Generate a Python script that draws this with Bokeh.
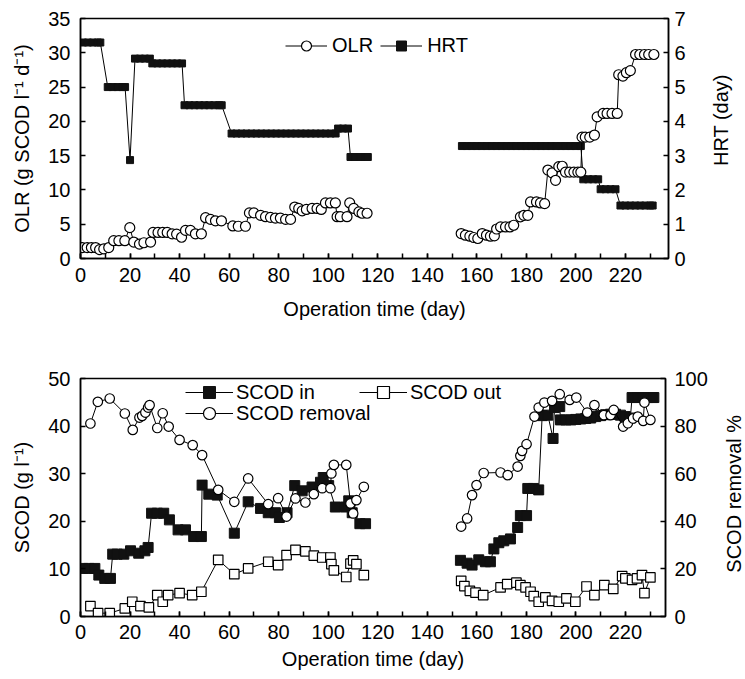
from bokeh.plotting import figure
from bokeh.layouts import column, row
from bokeh.models import Range1d, LinearAxis, SingleIntervalTicker, Legend, LegendItem, Label
from bokeh.embed import file_html
from bokeh.resources import INLINE

FONT = "Liberation Sans"

# ---------------- data: top panel ----------------
olr_day_a = [0.7, 2.7, 4.4, 6.1, 7.7, 9.4, 11.4, 13.4, 15.5, 17.9, 19.9, 21.5, 23.8, 25.6, 28.3, 29.3, 31.3, 33.2, 35.0, 37.0,
             38.8, 40.8, 42.4, 44.4, 46.4, 48.8, 50.5, 52.5, 54.5, 56.9, 61.5, 63.7, 66.6, 68.2, 70.0, 72.7, 74.7, 76.7, 78.7, 80.7,
             82.8, 84.8, 86.5, 88.1, 89.5, 91.2, 93.5, 95.5, 97.2, 98.9, 100.9, 102.9, 103.6, 104.9, 107.6, 108.7, 110.3, 112.4, 113.7, 115.7]
olr_a = [1.6, 1.6, 1.6, 1.6, 1.3, 1.4, 1.6, 2.6, 2.6, 2.6, 4.5, 2.4, 2.1, 2.3, 2.4, 3.8, 3.8, 3.8, 3.8, 3.6,
         3.55, 3.1, 4.1, 4.1, 3.6, 3.6, 5.95, 5.7, 5.5, 5.5, 4.75, 4.7, 4.7, 6.65, 6.65, 6.3, 6.1, 6.0, 5.9, 5.9,
         5.7, 5.7, 7.5, 7.3, 6.95, 7.15, 7.3, 7.3, 7.15, 8.1, 8.1, 8.1, 6.1, 6.1, 6.1, 8.1, 7.3, 6.8, 6.6, 6.6]
olr_day_b = [153.7, 155.4, 157.2, 158.8, 160.4, 162.2, 163.9, 165.5, 167.1, 168.0, 169.6, 171.6, 173.4, 174.9, 177.6, 179.0,
             180.6, 181.7, 184.1, 185.7, 187.4, 188.7, 190.4, 191.8, 193.1, 194.5, 195.8, 197.5, 199.2, 200.8, 202.0, 202.5,
             203.8, 205.6, 207.5, 208.6, 211.0, 212.6, 214.6, 216.7, 217.3, 219.0, 220.4, 222.0, 224.1, 225.8, 227.7, 229.4, 231.5]
olr_b = [3.64, 3.4, 3.25, 3.06, 2.92, 3.64, 3.4, 3.25, 3.3, 4.3, 4.6, 4.6, 4.6, 4.85, 6.07, 6.3,
         6.3, 8.25, 8.25, 8.1, 8.0, 12.9, 12.5, 11.4, 13.4, 13.45, 12.6, 12.6, 12.6, 12.6, 12.6, 17.7,
         17.7, 17.7, 18.0, 20.65, 21.15, 21.15, 21.15, 21.15, 26.8, 26.6, 27.1, 27.4, 29.75, 29.75, 29.75, 29.75, 29.75]

hrt_day_a = [1, 3, 5, 7, 8, 11, 13, 15, 17, 18, 20, 22, 24, 26, 28, 29, 31, 33, 35, 37, 39, 41,
             42, 44, 46, 48, 50, 52, 54, 56, 57, 61, 63, 65, 67, 69, 71, 73, 75, 77, 79, 81, 83, 85, 87, 89,
             91, 93, 95, 97, 99, 101, 103, 104, 106, 108, 109, 111, 113, 115, 116]
hrt_a = [6.3, 6.3, 6.3, 6.3, 6.3, 5.0, 5.0, 5.0, 5.0, 5.0, 2.87, 5.83, 5.83, 5.83, 5.83,
         5.69, 5.69, 5.69, 5.69, 5.69, 5.69, 5.69,
         4.47, 4.47, 4.47, 4.47, 4.47, 4.47, 4.47, 4.47, 4.47,
         3.645, 3.645, 3.645, 3.645, 3.645, 3.645, 3.645, 3.645, 3.645, 3.645, 3.645,
         3.645, 3.645, 3.645, 3.645, 3.645, 3.645, 3.645, 3.645, 3.645, 3.645, 3.645,
         3.79, 3.79, 3.79, 2.96, 2.96, 2.96, 2.96, 2.96]
hrt_day_b = [154, 156, 158, 160, 162, 164, 166, 168, 170, 172, 174, 176, 178, 180, 182, 184, 186, 188,
             190, 192, 194, 196, 198, 200, 202, 203, 205, 207, 209, 210, 212, 214, 216,
             218, 220, 222, 224, 226, 228, 230, 231]
hrt_b = [3.28, 3.28, 3.28, 3.28, 3.28, 3.28, 3.28, 3.28, 3.28, 3.28, 3.28, 3.28, 3.28, 3.28, 3.28, 3.28, 3.28, 3.28,
         3.28, 3.28, 3.28, 3.28, 3.28, 3.28, 3.28, 2.31, 2.31, 2.31, 2.31, 2.02, 2.02, 2.02, 2.02,
         1.545, 1.545, 1.545, 1.545, 1.545, 1.545, 1.545, 1.545]

# ---------------- data: bottom panel ----------------
in_day_a = [0.9, 3.4, 5.8, 7.4, 9.8, 12.1, 13.0, 14.8, 17.5, 20.2, 23.5, 26.0, 27.3, 28.7, 31.0, 33.6, 35.9, 39.4, 42.4, 45.7,
            48.8, 49.1, 51.8, 55.2, 62.1, 67.7, 72.7, 75.8, 78.7, 80.3, 83.4, 86.5, 89.5, 93.5, 96.9, 98.0, 100.2, 102.9, 107.0, 108.3,
            109.7, 112.8, 115.1]
in_a = [10.1, 10.1, 10.1, 8.7, 8.0, 8.0, 13.1, 13.1, 13.1, 13.8, 13.3, 13.8, 14.5, 21.7, 21.7, 21.7, 20.3, 18.2, 18.2, 16.8,
        16.8, 27.6, 25.7, 25.5, 17.5, 24.1, 22.7, 21.8, 21.8, 20.8, 21.8, 27.5, 26.4, 27.2, 28.2, 29.2, 27.5, 23.0, 23.0, 24.3,
        21.8, 19.5, 19.5]
out_day_a = [4.0, 7.1, 11.8, 17.9, 20.9, 24.2, 27.6, 31.0, 33.2, 35.4, 40.0, 45.1, 48.8, 55.6, 62.1, 67.7, 75.8, 79.8, 83.2, 86.8,
             90.8, 94.2, 97.6, 100.9, 101.3, 102.3, 107.3, 109.0, 110.1, 111.4, 114.4]
out_a = [2.2, 0.7, 0.7, 1.7, 3.1, 2.2, 1.9, 4.5, 3.1, 4.5, 4.9, 4.5, 5.2, 11.9, 8.9, 10.1, 11.5, 10.8, 12.9, 14.0,
         13.7, 12.8, 12.4, 12.4, 11.0, 9.7, 8.3, 11.1, 11.8, 11.0, 8.7]
rem_day_a = [4.0, 7.0, 11.8, 17.9, 21.1, 23.8, 24.9, 26.2, 27.3, 27.9, 31.0, 33.2, 35.6, 40.0, 45.3, 49.1, 55.6, 62.1, 67.7, 75.8,
             79.8, 83.2, 86.8, 90.8, 94.2, 97.6, 100.9, 101.3, 102.3, 107.3, 109.0, 110.1, 111.4, 114.4]
rem_a = [81.1, 90.2, 91.6, 85.3, 78.4, 83.6, 84.3, 85.7, 87.8, 88.8, 79.2, 85.4, 79.8, 74.2, 72.0, 67.8, 53.2, 48.2, 58.0, 47.2,
         49.7, 42.0, 49.6, 47.9, 51.4, 53.9, 53.9, 60.1, 63.7, 63.7, 47.5, 43.3, 48.9, 54.5]

in_day_b = [153.4, 156.1, 158.1, 160.8, 163.5, 165.5, 166.9, 168.9, 170.9, 173.6, 176.5, 177.6, 180.1, 180.6, 182.9, 185.0,
            186.4, 188.7, 190.8, 191.4, 193.5, 193.8, 196.0, 198.0, 200.0, 202.0, 204.0, 206.0, 208.0, 210.0, 212.0, 214.0,
            216.0, 218.0, 220.0, 222.0, 222.7, 225.0, 227.0, 229.0, 231.0, 231.5]
in_b = [11.8, 11.2, 10.8, 11.9, 11.5, 11.5, 14.2, 15.5, 15.9, 16.3, 18.7, 21.2, 21.2, 26.9, 26.9, 26.6,
        42.2, 42.3, 37.4, 43.9, 44.1, 41.3, 41.3, 41.3, 41.4, 41.5, 41.6, 41.7, 42.0, 42.2, 42.4, 42.5,
        42.5, 42.3, 42.0, 41.7, 46.0, 46.0, 46.0, 46.0, 46.0, 46.0]
out_day_b = [153.7, 155.0, 157.2, 159.5, 162.6, 169.6, 172.3, 176.0, 177.6, 179.7, 181.7, 183.0, 185.0, 187.7, 190.4, 193.1,
             196.2, 199.8, 204.3, 207.5, 211.5, 215.1, 218.7, 220.0, 222.7, 224.7, 226.7, 227.7, 230.1]
out_b = [7.5, 6.4, 5.4, 5.0, 4.5, 6.1, 6.8, 7.1, 6.6, 6.1, 5.2, 4.3, 3.1, 4.0, 3.3, 3.1,
         3.8, 3.1, 6.3, 4.5, 6.6, 5.8, 8.5, 8.0, 7.7, 8.0, 8.7, 4.9, 8.2]
rem_day_b = [153.7, 156.1, 158.1, 159.9, 162.8, 169.6, 172.5, 176.5, 177.6, 178.3, 180.1, 183.3, 185.0, 187.3, 190.4, 193.5,
             197.5, 200.2, 204.6, 207.5, 211.3, 214.0, 215.3, 219.1, 221.0, 223.1, 225.0, 227.2, 227.7, 230.1]
rem_b = [37.8, 41.2, 51.0, 55.2, 60.3, 60.5, 59.4, 63.0, 67.5, 69.6, 72.4, 84.0, 87.8, 89.9, 90.6, 93.4,
         91.0, 92.0, 85.7, 88.8, 84.6, 84.6, 86.8, 79.8, 81.2, 83.2, 84.0, 82.2, 89.9, 82.6]

x_ticks_interval = 20
x_label = "Operation time (day)"


def style_axis(ax, standoff, label_standoff=10):
    ax.axis_line_width = 1.5
    ax.axis_line_color = "black"
    ax.major_tick_in = 5
    ax.major_tick_out = 0
    ax.minor_tick_in = 5
    ax.minor_tick_out = 0
    ax.major_tick_line_width = 1.5
    ax.minor_tick_line_width = 1.5
    ax.major_tick_line_color = "black"
    ax.minor_tick_line_color = "black"
    ax.major_label_text_font = FONT
    ax.major_label_text_font_size = "20px"
    ax.major_label_text_color = "black"
    ax.major_label_standoff = standoff
    ax.axis_label_text_font = FONT
    ax.axis_label_text_font_size = "20px"
    ax.axis_label_text_font_style = "normal"
    ax.axis_label_text_color = "black"
    ax.axis_label_standoff = label_standoff


def base_fig(width, height, xend, ystart, yend, mb_top, mb_bottom, mb_right):
    p = figure(width=width, height=height, x_range=Range1d(0, xend), y_range=Range1d(ystart, yend),
               output_backend="svg", toolbar_location=None,
               min_border_left=80, min_border_right=mb_right, min_border_top=mb_top, min_border_bottom=mb_bottom)
    p.xgrid.visible = False
    p.ygrid.visible = False
    p.outline_line_color = "black"
    p.outline_line_width = 1.5
    p.background_fill_color = "white"
    p.border_fill_color = "white"
    return p


def title_strip(width, height, text, cx, cy):
    # narrow companion figure holding an upward-reading right-hand axis title
    s = figure(width=width, height=height, x_range=Range1d(0, width), y_range=Range1d(0, height),
               output_backend="svg", toolbar_location=None, min_border=0,
               x_axis_location=None, y_axis_location=None)
    s.grid.visible = False
    s.outline_line_color = None
    s.background_fill_color = "white"
    s.border_fill_color = "white"
    s.add_layout(Label(x=cx, y=cy, text=text, angle=90, angle_units="deg",
                       text_align="center", text_baseline="middle",
                       text_font=FONT, text_font_size="20px", text_color="black"))
    return s


def make_legend(label, renderers, loc, gw, gh, standoff):
    return Legend(items=[LegendItem(label=label, renderers=renderers)],
                  orientation="horizontal", location=loc,
                  glyph_width=gw, glyph_height=gh, label_standoff=standoff, spacing=0,
                  padding=0, margin=0, border_line_color=None, background_fill_alpha=0,
                  label_text_font=FONT, label_text_font_size="20px", label_height=20,
                  label_text_color="black")


# ================= top figure =================
p1 = base_fig(700, 326, 237.4, 0, 35, 18, 68, 32)
p1.xaxis.ticker = SingleIntervalTicker(interval=x_ticks_interval, num_minor_ticks=2)
p1.yaxis.ticker = SingleIntervalTicker(interval=5)
p1.xaxis.axis_label = x_label
p1.yaxis.axis_label = "OLR (g SCOD l\u207b\u00b9 d\u207b\u00b9)"
style_axis(p1.xaxis[0], 9, 13)
style_axis(p1.yaxis[0], 10, 12)
p1.yaxis[0].minor_tick_line_color = None

p1.extra_y_ranges = {"hrt": Range1d(0, 7)}
ax_r1 = LinearAxis(y_range_name="hrt", ticker=SingleIntervalTicker(interval=1))
style_axis(ax_r1, 6)
ax_r1.minor_tick_line_color = None
p1.add_layout(ax_r1, "right")

h_l1 = p1.line(hrt_day_a, hrt_a, y_range_name="hrt", line_color="black", line_width=1)
h_l2 = p1.line(hrt_day_b, hrt_b, y_range_name="hrt", line_color="black", line_width=1)
h_s1 = p1.scatter(hrt_day_a, hrt_a, y_range_name="hrt", marker="square", size=7,
                  fill_color="#111111", line_color="#111111")
h_s2 = p1.scatter(hrt_day_b, hrt_b, y_range_name="hrt", marker="square", size=7,
                  fill_color="#111111", line_color="#111111")
o_l1 = p1.line(olr_day_a, olr_a, line_color="black", line_width=1)
o_l2 = p1.line(olr_day_b, olr_b, line_color="black", line_width=1)
o_s1 = p1.scatter(olr_day_a, olr_a, marker="circle", size=10, fill_color="white", line_color="black", line_width=1.2)
o_s2 = p1.scatter(olr_day_b, olr_b, marker="circle", size=10, fill_color="white", line_color="black", line_width=1.2)

leg1 = Legend(items=[LegendItem(label="OLR", renderers=[o_l1, o_s1]),
                     LegendItem(label="HRT", renderers=[h_l1, h_s1])],
              orientation="horizontal", location=(205, 200),
              glyph_width=42, glyph_height=25, label_standoff=5, spacing=7,
              padding=0, margin=0, border_line_color=None, background_fill_alpha=0,
              label_text_font=FONT, label_text_font_size="20px", label_height=20, label_text_color="black")
p1.add_layout(leg1)

s1 = title_strip(45, 326, "HRT (day)", 20, 188)

# ================= bottom figure =================
p2 = base_fig(712, 353, 236.2, 0, 50, 52, 63, 47)
p2.xaxis.ticker = SingleIntervalTicker(interval=x_ticks_interval, num_minor_ticks=2)
p2.yaxis.ticker = SingleIntervalTicker(interval=10)
p2.xaxis.axis_label = x_label
p2.yaxis.axis_label = "SCOD (g l\u207b\u00b9)"
style_axis(p2.xaxis[0], 8, 6)
style_axis(p2.yaxis[0], 10, 12)
p2.yaxis[0].minor_tick_line_color = None

p2.extra_y_ranges = {"rem": Range1d(0, 100)}
ax_r2 = LinearAxis(y_range_name="rem", ticker=SingleIntervalTicker(interval=20))
style_axis(ax_r2, 9)
ax_r2.minor_tick_line_color = None
p2.add_layout(ax_r2, "right")

so_l1 = p2.line(out_day_a, out_a, line_color="black", line_width=1)
so_l2 = p2.line(out_day_b, out_b, line_color="black", line_width=1)
so_s1 = p2.scatter(out_day_a, out_a, marker="square", size=9.5, fill_color="white", line_color="black", line_width=1.2)
so_s2 = p2.scatter(out_day_b, out_b, marker="square", size=9.5, fill_color="white", line_color="black", line_width=1.2)
si_l1 = p2.line(in_day_a, in_a, line_color="black", line_width=1)
si_l2 = p2.line(in_day_b, in_b, line_color="black", line_width=1)
si_s1 = p2.scatter(in_day_a, in_a, marker="square", size=10, fill_color="#111111", line_color="#111111")
si_s2 = p2.scatter(in_day_b, in_b, marker="square", size=10, fill_color="#111111", line_color="#111111")
r_l1 = p2.line(rem_day_a, rem_a, y_range_name="rem", line_color="black", line_width=1)
r_l2 = p2.line(rem_day_b, rem_b, y_range_name="rem", line_color="black", line_width=1)
r_s1 = p2.scatter(rem_day_a, rem_a, y_range_name="rem", marker="circle", size=9.5,
                  fill_color="white", line_color="black", line_width=1.2)
r_s2 = p2.scatter(rem_day_b, rem_b, y_range_name="rem", marker="circle", size=9.5,
                  fill_color="white", line_color="black", line_width=1.2)

p2.add_layout(make_legend("SCOD in", [si_l1, si_s1], (105, 209), 48, 30, 3))
p2.add_layout(make_legend("SCOD out", [so_l1, so_s1], (279, 209), 48, 30, 3))
p2.add_layout(make_legend("SCOD removal", [r_l1, r_s1], (105, 188), 48, 30, 3))

s2 = title_strip(33, 353, "SCOD removal %", 21, 182)

layout = column(row(p1, s1, spacing=0), row(p2, s2, spacing=0), spacing=0)
open("out.html", "w").write(file_html(layout, INLINE))
